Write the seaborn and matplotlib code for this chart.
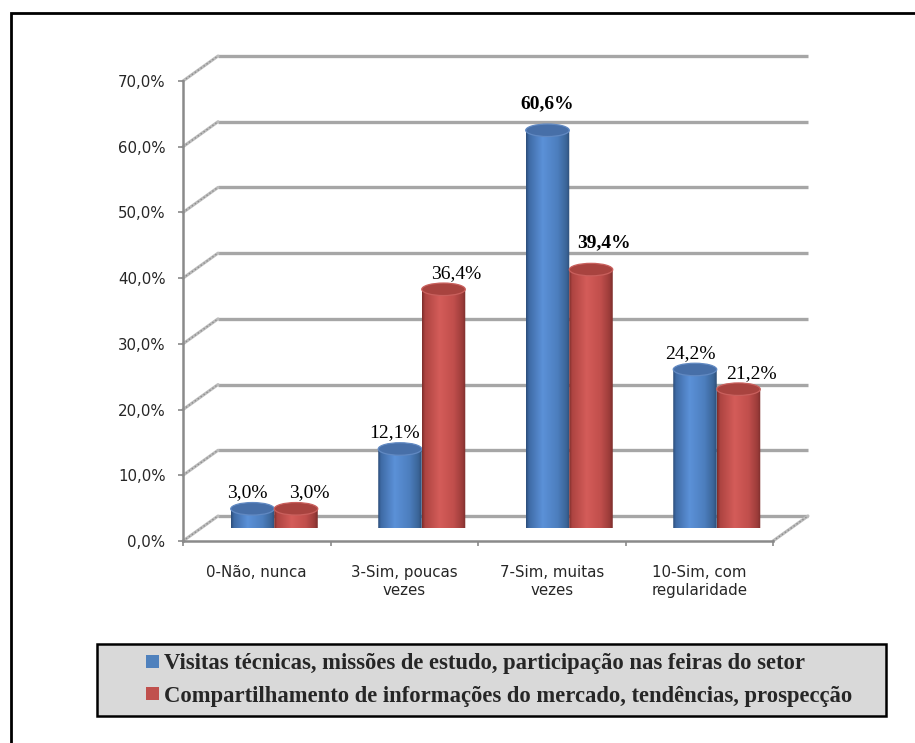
import numpy as np
import pandas as pd
import matplotlib
matplotlib.use("Agg")
import matplotlib.pyplot as plt
import seaborn as sns
from matplotlib.patches import Ellipse, Rectangle, Patch
from matplotlib.path import Path
from matplotlib.colors import LinearSegmentedColormap, to_hex
from matplotlib.transforms import Affine2D, IdentityTransform
from matplotlib.lines import Line2D

# ---- data -------------------------------------------------------------
categories = ["0-Não, nunca", "3-Sim, poucas\nvezes",
              "7-Sim, muitas\nvezes", "10-Sim, com\nregularidade"]
series = ["Visitas técnicas, missões de estudo, participação nas feiras do setor",
          "Compartilhamento de informações do mercado, tendências, prospecção"]
visitas = [3.0, 12.1, 60.6, 24.2]
compartilhamento = [3.0, 36.4, 39.4, 21.2]
y_ticks = [0, 10, 20, 30, 40, 50, 60, 70]
highlight = "7-Sim, muitas\nvezes"

df = pd.DataFrame({
    "categoria": categories * 2,
    "serie": [series[0]] * 4 + [series[1]] * 4,
    "valor": visitas + compartilhamento,
})

# ---- styling ----------------------------------------------------------
sns.set_theme(style="white")
plt.rcParams["font.family"] = ["DejaVu Sans"]

W, H = 915, 743
DPI = 100
base_colors = ["#4f81bd", "#c0504d"]
gradients = [
    LinearSegmentedColormap.from_list("azul", [
        (0.0, "#2b4c78"), (0.07, "#3f6ba6"), (0.38, "#5b91d8"),
        (0.72, "#4c7ebe"), (0.92, "#3b6598"), (1.0, "#2d4d76")]),
    LinearSegmentedColormap.from_list("vermelho", [
        (0.0, "#7a2c2a"), (0.07, "#ad4441"), (0.40, "#d45c59"),
        (0.72, "#c14f4c"), (0.92, "#9c3c3a"), (1.0, "#7c2e2c")]),
]
top_colors = ["#476fa8", "#a8433f"]
rim_colors = ["#6189c2", "#c9605d"]

grid_color = "#a6a6a6"
axis_color = "#8a8a8a"

fig = plt.figure(figsize=(W / DPI, H / DPI), dpi=DPI)
fig.patch.set_facecolor("white")

# three planes of the 3-D box: back wall, bar plane, front axis
plot_w, plot_h = 590, 460
depth_x, depth_y = 35, 25


def px_rect(left, bottom):
    return [left / W, (H - bottom) / H, plot_w / W, plot_h / H]


ax_back = fig.add_axes(px_rect(183 + depth_x, 541 - depth_y), zorder=0)
ax_mid = fig.add_axes(px_rect(183 + depth_x / 2, 541 - depth_y / 2), zorder=1)
ax_front = fig.add_axes(px_rect(183, 541), zorder=2)

xlim = (-0.5, len(categories) - 0.5)
ylim = (0, 70)
for a in (ax_back, ax_mid, ax_front):
    a.set_facecolor("none")
    a.set_xlim(*xlim)
    a.set_ylim(*ylim)

# back wall gridlines
ax_back.hlines(y_ticks, xlim[0], xlim[1], colors=grid_color, lw=2.4,
               clip_on=False)
ax_back.axis("off")

# ---- bars -------------------------------------------------------------
sns.barplot(data=df, x="categoria", y="valor", hue="serie",
            order=categories, hue_order=series, palette=base_colors,
            width=0.59, saturation=1, legend=False, ax=ax_mid)
ax_mid.set_xlim(*xlim)
ax_mid.set_ylim(*ylim)

px_per_unit = plot_h / (ylim[1] - ylim[0])
ell_h = 12.5 / px_per_unit

bar_info = []
for patch in list(ax_mid.patches):
    x, w, h = patch.get_x(), patch.get_width(), patch.get_height()
    fc = to_hex(patch.get_facecolor())
    s = 0 if fc == base_colors[0] else 1
    patch.set_visible(False)
    bar_info.append((s, x, w, h))

bar_info.sort(key=lambda b: (b[1], b[0]))
grad = np.linspace(0, 1, 256).reshape(1, -1)
for s, x, w, h in bar_info:
    cx = x + w / 2
    # body: rectangle closed by the lower half of the base ellipse
    arc = Path.arc(180, 360)
    arc_v = Affine2D().scale(w / 2, ell_h / 2).translate(cx, 0).transform(arc.vertices)
    verts = [(x, h)] + list(map(tuple, arc_v)) + [(x + w, h), (x, h)]
    codes = [Path.MOVETO] + [Path.LINETO] + list(arc.codes[1:]) + [Path.LINETO, Path.CLOSEPOLY]
    body = Path(verts, codes)
    im = ax_mid.imshow(grad, cmap=gradients[s], aspect="auto",
                       extent=(x, x + w, -ell_h / 2, h), zorder=3 + s * 0.1,
                       interpolation="bilinear")
    im.set_clip_path(body, ax_mid.transData)
    top = Ellipse((cx, h), w, ell_h, facecolor=top_colors[s],
                  edgecolor=rim_colors[s], lw=0.9, zorder=3.05 + s * 0.1,
                  clip_on=False)
    ax_mid.add_patch(top)

    value = h
    cat = categories[int(round(cx))]
    bold = cat == highlight
    dx = (0 if bold else -5) if s == 0 else 13
    dy = 27 if bold else 16
    label = f"{value:.1f}%".replace(".", ",")
    ax_mid.annotate(label, (cx, value), xytext=(dx * 0.72, dy * 0.72),
                    textcoords="offset points", ha="center", va="center",
                    fontsize=14, family="Liberation Serif",
                    fontweight="bold" if bold else "normal", color="black",
                    zorder=6, annotation_clip=False)

ax_mid.set_xlim(*xlim)
ax_mid.set_ylim(*ylim)
ax_mid.axis("off")

# ---- front axis -------------------------------------------------------
for side in ("top", "right"):
    ax_front.spines[side].set_visible(False)
for side in ("left", "bottom"):
    ax_front.spines[side].set_color(axis_color)
    ax_front.spines[side].set_linewidth(1.8)

ax_front.set_yticks(y_ticks)
ax_front.set_yticklabels([f"{v:.1f}%".replace(".", ",") for v in y_ticks])
ax_front.tick_params(axis="y", length=3.6, width=1.2, color=axis_color,
                     pad=9, labelsize=10.8, left=True)
ax_front.set_xticks(range(len(categories)))
ax_front.set_xticklabels(categories)
ax_front.set_xticks(np.arange(-0.5, len(categories)), minor=True)
ax_front.tick_params(axis="x", which="major", length=0, pad=17, labelsize=10.8)
ax_front.tick_params(axis="x", which="minor", length=3.6, width=1.2,
                     color=axis_color, bottom=True)
for t in ax_front.get_xticklabels():
    t.set_linespacing(1.3)
ax_front.set_xlabel("")
ax_front.set_ylabel("")

# side-wall and floor edges joining the front axis to the back wall
fig.canvas.draw()


def wall_edge(x, y):
    p0 = ax_front.transData.transform((x, y))
    p1 = ax_back.transData.transform((x, y))
    for color, lw, ls in (("#bcbcbc", 2.2, "-"), ("#8d8d8d", 1.0, (0, (1, 1.6)))):
        fig.add_artist(Line2D([p0[0], p1[0]], [p0[1], p1[1]], color=color,
                              lw=lw, linestyle=ls, transform=IdentityTransform(),
                              zorder=1))


for v in y_ticks:
    wall_edge(xlim[0], v)
wall_edge(xlim[1], 0)

# ---- legend -----------------------------------------------------------
box_l, box_t, box_r, box_b = 97, 644, 886, 716
fig.add_artist(Rectangle((box_l / W, (H - box_b) / H),
                         (box_r - box_l) / W, (box_b - box_t) / H,
                         transform=fig.transFigure, facecolor="#d9d9d9",
                         edgecolor="black", lw=1.8, zorder=5))
handles = [Patch(facecolor=c, edgecolor="none") for c in base_colors]
leg = fig.legend(handles, series, loc="center",
                 bbox_to_anchor=(499 / W, (H - 680) / H),
                 frameon=False, handlelength=0.55, handleheight=0.55,
                 handletextpad=0.22, labelspacing=0.5,
                 prop={"family": "Liberation Serif", "weight": "bold", "size": 16.3})
leg.set_zorder(6)

# outer frame
fig.add_artist(Rectangle((11 / W, -0.1), 1.2, (H - 13) / H + 0.1,
                         transform=fig.transFigure, facecolor="none",
                         edgecolor="black", lw=2.0, zorder=7))

fig.savefig("out.png", dpi=DPI, facecolor="white")
